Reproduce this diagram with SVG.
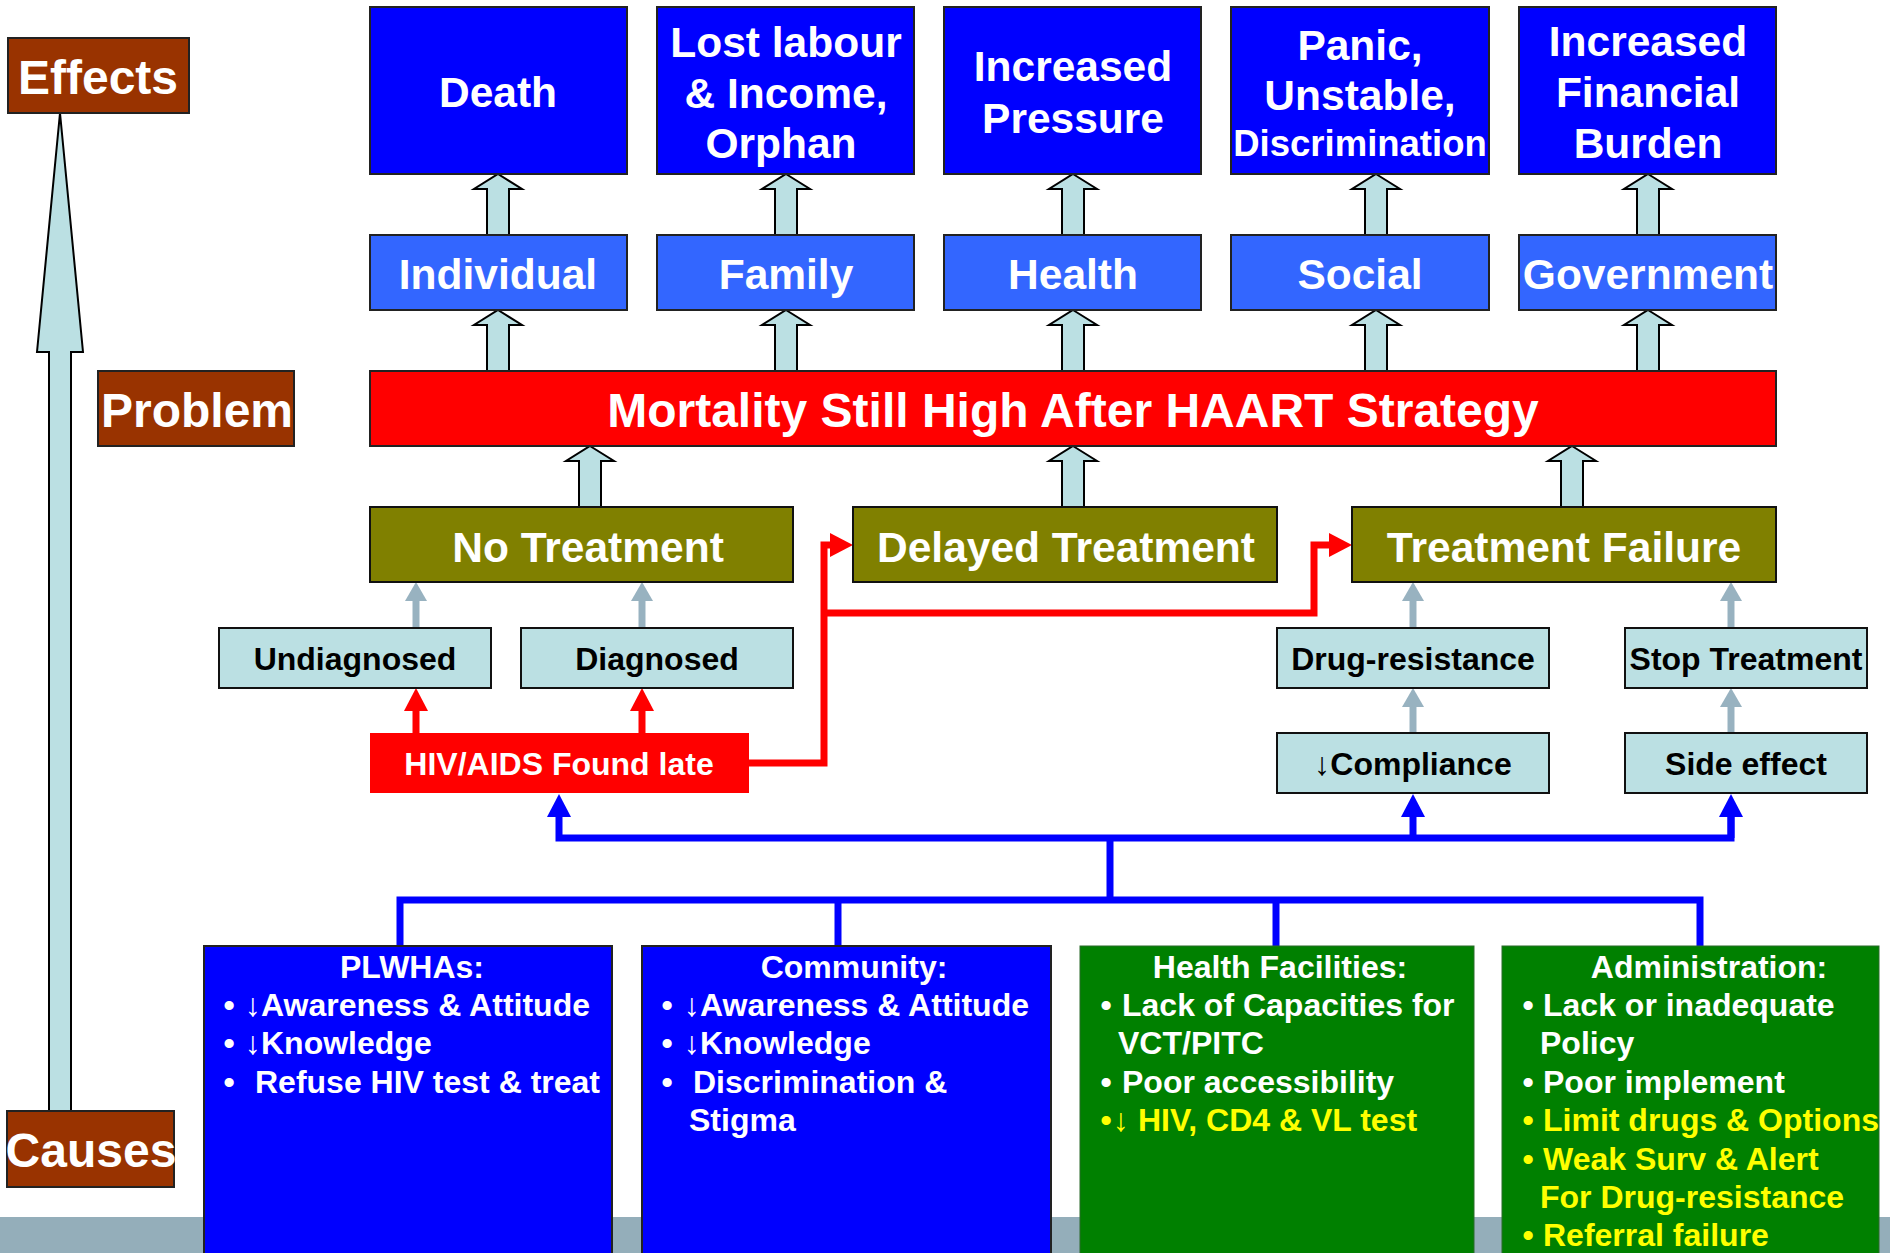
<svg xmlns="http://www.w3.org/2000/svg" xmlns:xlink="http://www.w3.org/1999/xlink" width="1890" height="1253" viewBox="0 0 1890 1253">
<style>
text{font-family:"Liberation Sans",Arial,sans-serif;font-weight:bold}
.big{font-size:48px;fill:#fff;text-anchor:middle}
.mid{font-size:42.5px;fill:#fff;text-anchor:middle}
.sm{font-size:32px;fill:#000;text-anchor:middle}
.smw{font-size:32px;fill:#fff;text-anchor:middle}
.li{font-size:32px;fill:#fff}
.bu{font-size:32px;fill:#fff;text-anchor:middle}
.ar{font-weight:normal}
.y{fill:#ff0}
.brown{fill:#993300;stroke:#222;stroke-width:2}
.eff{fill:#0000ff;stroke:#222;stroke-width:2}
.lvl{fill:#3366ff;stroke:#222;stroke-width:2}
.red{fill:#ff0000;stroke:#222;stroke-width:2}
.olive{fill:#808000;stroke:#111;stroke-width:2}
.cyan{fill:#bbe0e3;stroke:#111;stroke-width:2}
.blue{fill:#0000ff;stroke:#222;stroke-width:2}
.green{fill:#008000;stroke:#2a6a2a;stroke-width:1}
.blk{fill:#bbe0e3;stroke:#000;stroke-width:2}
.rl{fill:none;stroke:#ff0000;stroke-width:7}
.gl{fill:none;stroke:#98b2c0;stroke-width:7}
.bl{fill:none;stroke:#0000ff;stroke-width:7}
</style>
<defs>
<path id="blkarrow" class="blk" d="M0,0 L24,15 L11,15 L11,61 L-11,61 L-11,15 L-24,15 Z"/>
<marker id="mr" markerUnits="userSpaceOnUse" markerWidth="24" markerHeight="24" refX="0" refY="12" orient="auto"><path d="M0,0 L23,12 L0,24 Z" fill="#ff0000"/></marker>
<marker id="mg" markerUnits="userSpaceOnUse" markerWidth="20" markerHeight="24" refX="0" refY="12" orient="auto"><path d="M0,1 L19,12 L0,23 Z" fill="#98b2c0"/></marker>
<marker id="mb" markerUnits="userSpaceOnUse" markerWidth="24" markerHeight="26" refX="0" refY="13" orient="auto"><path d="M0,1 L23,13 L0,25 Z" fill="#0000ff"/></marker>
</defs>
<rect x="0" y="0" width="1890" height="1253" fill="#fff"/>
<rect x="0" y="1217" width="1890" height="36" fill="#94aeba"/>

<g id="connectors">
<path class="blk" d="M60,113 L83,352 L71,352 L71,1111 L49,1111 L49,352 L37,352 Z"/>
<use xlink:href="#blkarrow" x="498" y="174"/>
<use xlink:href="#blkarrow" x="786" y="174"/>
<use xlink:href="#blkarrow" x="1073" y="174"/>
<use xlink:href="#blkarrow" x="1376" y="174"/>
<use xlink:href="#blkarrow" x="1648" y="174"/>
<use xlink:href="#blkarrow" x="498" y="310"/>
<use xlink:href="#blkarrow" x="786" y="310"/>
<use xlink:href="#blkarrow" x="1073" y="310"/>
<use xlink:href="#blkarrow" x="1376" y="310"/>
<use xlink:href="#blkarrow" x="1648" y="310"/>
<use xlink:href="#blkarrow" x="590" y="446"/>
<use xlink:href="#blkarrow" x="1073" y="446"/>
<use xlink:href="#blkarrow" x="1572" y="446"/>
<path class="gl" d="M416,628 V601" marker-end="url(#mg)"/>
<path class="gl" d="M642,628 V601" marker-end="url(#mg)"/>
<path class="gl" d="M1413,628 V601" marker-end="url(#mg)"/>
<path class="gl" d="M1731,628 V601" marker-end="url(#mg)"/>
<path class="gl" d="M1413,733 V707" marker-end="url(#mg)"/>
<path class="gl" d="M1731,733 V707" marker-end="url(#mg)"/>
<path class="rl" d="M416,733 V711" marker-end="url(#mr)"/>
<path class="rl" d="M642,733 V711" marker-end="url(#mr)"/>
<path class="rl" d="M749,763 H824 V545 H830" marker-end="url(#mr)"/>
<path class="rl" d="M824,613 H1314 V545 H1329" marker-end="url(#mr)"/>
<path class="bl" d="M1731,817 V838 H559 V817" marker-end="url(#mb)"/>
<path class="bl" d="M1731,838 V817" marker-end="url(#mb)"/>
<path class="bl" d="M1413,838 V817" marker-end="url(#mb)"/>
<path class="bl" d="M1110,838 V900"/>
<path class="bl" d="M400,946 V900 H1700 V946"/>
<path class="bl" d="M838,900 V946"/>
<path class="bl" d="M1276,900 V946"/>
</g>

<g id="effects-label"><rect class="brown" x="8" y="38" width="181" height="75"/><text class="big" x="98" y="94">Effects</text></g>
<g id="problem-label"><rect class="brown" x="98" y="371" width="196" height="75"/><text class="big" x="197" y="427">Problem</text></g>
<g id="causes-label"><rect class="brown" x="7" y="1111" width="167" height="76"/><text class="big" x="91" y="1167">Causes</text></g>

<g id="death"><rect class="eff" x="370" y="7" width="257" height="167"/><text class="mid" x="498" y="107">Death</text></g>
<g id="lost-labour"><rect class="eff" x="657" y="7" width="257" height="167"/><text class="mid" x="786" y="57">Lost labour</text><text class="mid" x="786" y="108">&amp; Income,</text><text class="mid" x="781" y="158">Orphan</text></g>
<g id="increased-pressure"><rect class="eff" x="944" y="7" width="257" height="167"/><text class="mid" x="1073" y="81">Increased</text><text class="mid" x="1073" y="133">Pressure</text></g>
<g id="panic"><rect class="eff" x="1231" y="7" width="258" height="167"/><text class="mid" x="1360" y="60">Panic,</text><text class="mid" x="1360" y="110">Unstable,</text><text class="mid" x="1360" y="156" style="font-size:36.5px">Discrimination</text></g>
<g id="financial-burden"><rect class="eff" x="1519" y="7" width="257" height="167"/><text class="mid" x="1648" y="56">Increased</text><text class="mid" x="1648" y="107">Financial</text><text class="mid" x="1648" y="158">Burden</text></g>

<g id="individual"><rect class="lvl" x="370" y="235" width="257" height="75"/><text class="mid" x="498" y="289">Individual</text></g>
<g id="family"><rect class="lvl" x="657" y="235" width="257" height="75"/><text class="mid" x="786" y="289">Family</text></g>
<g id="health"><rect class="lvl" x="944" y="235" width="257" height="75"/><text class="mid" x="1073" y="289">Health</text></g>
<g id="social"><rect class="lvl" x="1231" y="235" width="258" height="75"/><text class="mid" x="1360" y="289">Social</text></g>
<g id="government"><rect class="lvl" x="1519" y="235" width="257" height="75"/><text class="mid" x="1648" y="289">Government</text></g>

<g id="mortality"><rect class="red" x="370" y="371" width="1406" height="75"/><text class="big" x="1073" y="427">Mortality Still High After HAART Strategy</text></g>

<g id="no-treatment"><rect class="olive" x="370" y="507" width="423" height="75"/><text class="mid" x="588" y="562">No Treatment</text></g>
<g id="delayed-treatment"><rect class="olive" x="853" y="507" width="424" height="75"/><text class="mid" x="1066" y="562">Delayed Treatment</text></g>
<g id="treatment-failure"><rect class="olive" x="1352" y="507" width="424" height="75"/><text class="mid" x="1564" y="562">Treatment Failure</text></g>

<g id="undiagnosed"><rect class="cyan" x="219" y="628" width="272" height="60"/><text class="sm" x="355" y="670">Undiagnosed</text></g>
<g id="diagnosed"><rect class="cyan" x="521" y="628" width="272" height="60"/><text class="sm" x="657" y="670">Diagnosed</text></g>
<g id="drug-resistance"><rect class="cyan" x="1277" y="628" width="272" height="60"/><text class="sm" x="1413" y="670">Drug-resistance</text></g>
<g id="stop-treatment"><rect class="cyan" x="1625" y="628" width="242" height="60"/><text class="sm" x="1746" y="670">Stop Treatment</text></g>

<g id="hiv-found-late"><rect x="370" y="733" width="379" height="60" fill="#ff0000"/><text class="smw" x="559" y="775">HIV/AIDS Found late</text></g>
<g id="compliance"><rect class="cyan" x="1277" y="733" width="272" height="60"/><text class="sm" x="1413" y="775"><tspan class="ar">↓</tspan>Compliance</text></g>
<g id="side-effect"><rect class="cyan" x="1625" y="733" width="242" height="60"/><text class="sm" x="1746" y="775">Side effect</text></g>

<g id="plwhas"><rect class="blue" x="204" y="946" width="408" height="320"/>
<text class="smw" x="412" y="978">PLWHAs:</text>
<text class="bu" x="229" y="1016">•</text><text class="li" x="245" y="1016"><tspan class="ar">↓</tspan>Awareness &amp; Attitude</text>
<text class="bu" x="229" y="1054">•</text><text class="li" x="245" y="1054"><tspan class="ar">↓</tspan>Knowledge</text>
<text class="bu" x="229" y="1093">•</text><text class="li" x="255" y="1093">Refuse HIV test &amp; treat</text>
</g>
<g id="community"><rect class="blue" x="642" y="946" width="409" height="320"/>
<text class="smw" x="854" y="978">Community:</text>
<text class="bu" x="667" y="1016">•</text><text class="li" x="684" y="1016"><tspan class="ar">↓</tspan>Awareness &amp; Attitude</text>
<text class="bu" x="667" y="1054">•</text><text class="li" x="684" y="1054"><tspan class="ar">↓</tspan>Knowledge</text>
<text class="bu" x="667" y="1093">•</text><text class="li" x="693" y="1093">Discrimination &amp;</text>
<text class="li" x="689" y="1131">Stigma</text>
</g>
<g id="health-facilities"><rect class="green" x="1080" y="946" width="394" height="320"/>
<text class="smw" x="1280" y="978">Health Facilities:</text>
<text class="bu" x="1106" y="1016">•</text><text class="li" x="1122" y="1016">Lack of Capacities for</text>
<text class="li" x="1118" y="1054">VCT/PITC</text>
<text class="bu" x="1106" y="1093">•</text><text class="li" x="1122" y="1093">Poor accessibility</text>
<text class="bu y" x="1106" y="1131">•</text><text class="li y" x="1113" y="1131"><tspan class="ar">↓</tspan> HIV, CD4 &amp; VL test</text>
</g>
<g id="administration"><rect class="green" x="1502" y="946" width="377" height="320"/>
<text class="smw" x="1709" y="978">Administration:</text>
<text class="bu" x="1528" y="1016">•</text><text class="li" x="1543" y="1016">Lack or inadequate</text>
<text class="li" x="1540" y="1054">Policy</text>
<text class="bu" x="1528" y="1093">•</text><text class="li" x="1543" y="1093">Poor implement</text>
<text class="bu y" x="1528" y="1131">•</text><text class="li y" x="1543" y="1131">Limit drugs &amp; Options</text>
<text class="bu y" x="1528" y="1170">•</text><text class="li y" x="1543" y="1170">Weak Surv &amp; Alert</text>
<text class="li y" x="1540" y="1208">For Drug-resistance</text>
<text class="bu y" x="1528" y="1246">•</text><text class="li y" x="1543" y="1246">Referral failure</text>
</g>
</svg>
